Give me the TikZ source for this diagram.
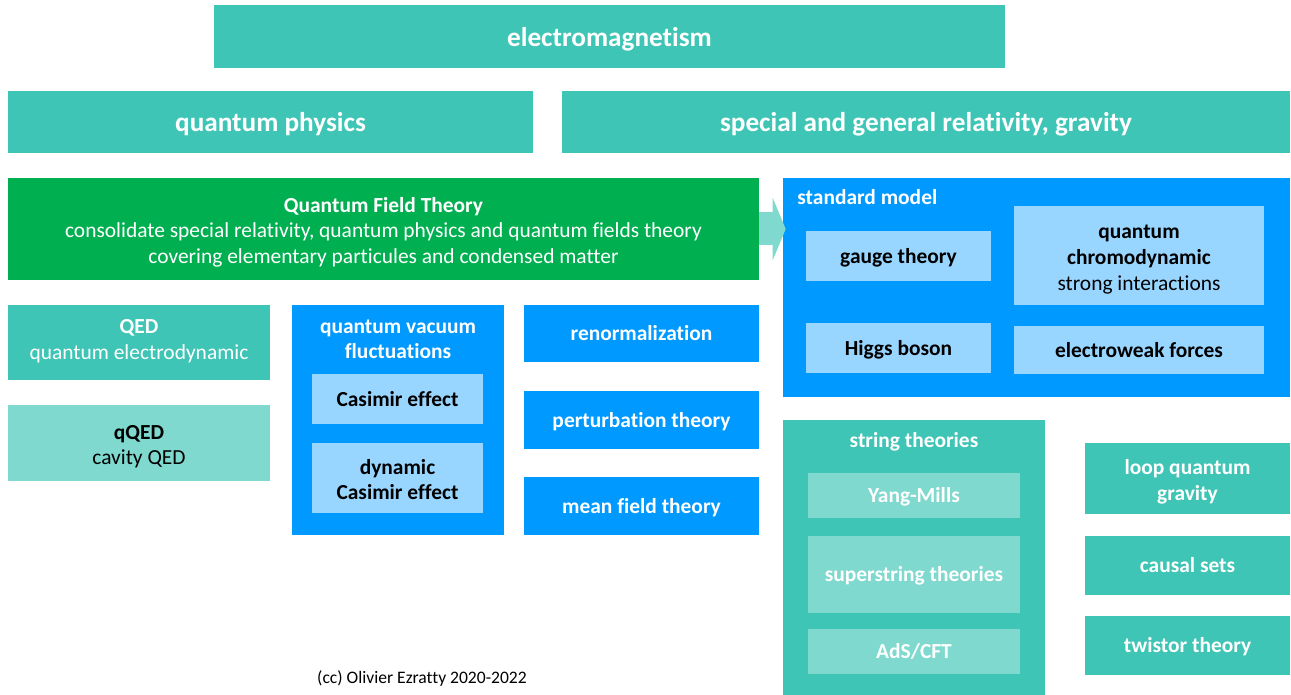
\documentclass[tikz,border=0pt]{standalone}
\usepackage{fontspec}
\setmainfont{Carlito}[Ligatures=NoCommon]
\definecolor{qteal}{RGB}{63,197,181}
\definecolor{qmint}{RGB}{127,217,206}
\definecolor{qgreen}{RGB}{0,176,80}
\definecolor{qblue}{RGB}{0,153,255}
\definecolor{qsky}{RGB}{153,214,255}
\usetikzlibrary{arrows.meta}
\newcommand{\tallstrut}{\rule{0pt}{1.1em}}

\begin{document}
\begin{tikzpicture}[
  x=0.02cm, y=-0.02cm,
  every node/.style={inner sep=0pt, align=center,
                     execute at begin node={\rule[-0.269em]{0pt}{1.221em}},
                     execute at end node={\rule[-0.269em]{0pt}{1.221em}}},
  boxbase/.style={rectangle, text=white, font=\fontsize{12.2}{14.6}\selectfont},
  topbox/.style={boxbase, fill=qteal, minimum height=1.26cm,
                 font=\fontsize{15.5}{18.6}\selectfont\bfseries},
  tealbox/.style={boxbase, fill=qteal},
  mintbox/.style={boxbase, fill=qmint},
  bluebox/.style={boxbase, fill=qblue, font=\fontsize{12.2}{14.6}\selectfont\bfseries},
  skybox/.style={boxbase, fill=qsky, text=black,
                 font=\fontsize{12.2}{14.6}\selectfont\bfseries},
  heading/.style={text=white, font=\fontsize{12.2}{14.6}\selectfont\bfseries},
  flow/.style={-{Triangle[length=0.26cm, width=1.24cm]}, line width=0.66cm, color=qmint},
]
  \useasboundingbox (0,0) rectangle (1291,695);

  % Top layer: physics fields
  \node[topbox, minimum width=15.82cm] (em) at (609.5,37) {electromagnetism};
  \node[topbox, minimum width=10.5cm] (qp) at (270.5,122) {quantum physics};
  \node[topbox, minimum width=14.56cm] (rel) at (926,122) {special and general relativity, gravity};

  % Quantum field theory
  \node[boxbase, fill=qgreen, minimum width=15.02cm, minimum height=2.04cm] (qft) at (383.5,229)
    {\tallstrut\textbf{Quantum Field Theory}\\consolidate special relativity, quantum physics and quantum fields theory\\covering elementary particules and condensed matter};

  % Standard model
  \node[bluebox, minimum width=10.14cm, minimum height=4.38cm] (sm) at (1036.5,287.5) {};
  \node[heading, anchor=west] (smtitle) at (797,197) {standard model};
  \node[skybox, minimum width=3.7cm, minimum height=1cm] (gauge) at (898.5,256) {gauge theory};
  \node[skybox, minimum width=5cm, minimum height=1.98cm] (qcd) at (1139,255.5)
    {\tallstrut quantum\\chromodynamic\\\mdseries strong interactions};
  \node[skybox, minimum width=3.7cm, minimum height=1cm] (higgs) at (898.5,348) {Higgs boson};
  \node[skybox, minimum width=5cm, minimum height=0.96cm] (ew) at (1139,350) {electroweak forces};

  % Left column
  \node[tealbox, minimum width=5.24cm, minimum height=1.5cm] (qed) at (139,342.5)
    {\textbf{QED}\\quantum electrodynamic};
  \node[mintbox, text=black, minimum width=5.24cm, minimum height=1.52cm] (qqed) at (139,443)
    {\tallstrut\textbf{qQED}\\cavity QED};

  % Vacuum fluctuations
  \node[bluebox, minimum width=4.24cm, minimum height=4.6cm] (vac) at (398,420) {};
  \node[heading] (vactitle) at (398,342) {quantum vacuum\\fluctuations};
  \node[skybox, minimum width=3.42cm, minimum height=1cm] (casimir) at (397.5,399) {Casimir effect};
  \node[skybox, minimum width=3.42cm, minimum height=1.4cm] (dyncas) at (397.5,478) {\tallstrut dynamic\\Casimir effect};

  % Methods
  \node[bluebox, minimum width=4.7cm, minimum height=1.14cm] (renorm) at (641.5,333.5) {renormalization};
  \node[bluebox, minimum width=4.7cm, minimum height=1.16cm] (pert) at (641.5,420) {perturbation theory};
  \node[bluebox, minimum width=4.7cm, minimum height=1.16cm] (mean) at (641.5,506) {mean field theory};

  % String theories
  \node[tealbox, minimum width=5.24cm, minimum height=5.5cm] (string) at (914,557.5) {};
  \node[heading] (stringtitle) at (914,440) {string theories};
  \node[mintbox, font=\fontsize{12.2}{14.6}\selectfont\bfseries, minimum width=4.24cm, minimum height=0.9cm] (yang) at (914,495.5) {Yang-Mills};
  \node[mintbox, font=\fontsize{12.2}{14.6}\selectfont\bfseries, minimum width=4.24cm, minimum height=1.54cm] (super) at (914,574.5) {superstring theories};
  \node[mintbox, font=\fontsize{12.2}{14.6}\selectfont\bfseries, minimum width=4.24cm, minimum height=0.9cm] (ads) at (914,651.5) {AdS/CFT};

  % Quantum gravity
  \node[tealbox, font=\fontsize{12.2}{14.6}\selectfont\bfseries, minimum width=4.1cm, minimum height=1.42cm] (loop) at (1187.5,478.5) {\tallstrut loop quantum\\gravity};
  \node[tealbox, font=\fontsize{12.2}{14.6}\selectfont\bfseries, minimum width=4.1cm, minimum height=1.18cm] (causal) at (1187.5,565.5) {causal sets};
  \node[tealbox, font=\fontsize{12.2}{14.6}\selectfont\bfseries, minimum width=4.1cm, minimum height=1.18cm] (twistor) at (1187.5,645.5) {twistor theory};

  % Arrow
  \draw[flow, shorten >=-0.06cm] (qft.east) -- (qft.east -| sm.west);

  \node[font=\fontsize{10}{12}\selectfont] (credit) at (422,677) {(cc) Olivier Ezratty 2020-2022};
\end{tikzpicture}
\end{document}
